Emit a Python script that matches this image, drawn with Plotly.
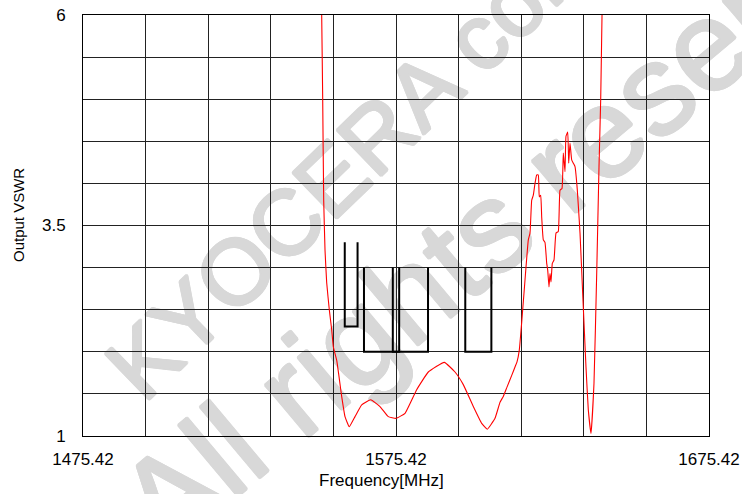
import math
import plotly.graph_objects as go

# ---- data ----
freq_mhz = [1551.55, 1551.68, 1552.00, 1552.32, 1552.74, 1553.28, 1554.11, 1554.88, 1555.39,
            1556.47, 1558.07, 1559.13, 1560.50, 1562.32, 1564.46, 1567.34, 1570.31, 1572.96,
            1575.42, 1578.30, 1582.03, 1585.74, 1590.85, 1594.27, 1596.92, 1600.12, 1602.80,
            1604.59, 1607.05, 1608.65, 1609.70, 1610.88, 1612.39, 1613.44, 1614.08, 1614.81,
            1615.58, 1616.63, 1617.69, 1618.23, 1618.77, 1619.29, 1619.83, 1620.37, 1620.88,
            1621.20, 1621.65, 1621.97, 1622.48, 1623.02, 1623.57, 1623.89, 1624.30, 1624.62,
            1624.94, 1625.36, 1625.90, 1626.54, 1627.27, 1627.82, 1628.45, 1628.87, 1629.41,
            1629.73, 1630.28, 1630.60, 1631.01, 1631.55, 1632.07, 1632.61, 1633.35, 1634.21,
            1635.07, 1636.12, 1636.86, 1637.72, 1638.68, 1639.54, 1640.28, 1640.82, 1641.24,
            1641.40]
vswr = [6.3, 6.0, 5.0, 3.8, 3.21, 2.82, 2.50, 2.26, 2.06,
        1.90, 1.47, 1.23, 1.11, 1.23, 1.37, 1.43, 1.35, 1.23,
        1.21, 1.27, 1.55, 1.76, 1.875, 1.76, 1.61, 1.35, 1.15,
        1.08, 1.21, 1.40, 1.47, 1.58, 1.72, 1.82, 1.88, 2.02,
        2.35, 2.85, 3.33, 3.41, 3.80, 3.86, 4.00, 4.10, 4.10,
        3.84, 3.86, 3.60, 3.33, 3.30, 3.05, 2.97, 2.77, 2.93,
        2.83, 3.05, 3.09, 3.41, 3.43, 3.92, 3.94, 4.36, 4.14,
        4.56, 4.61, 4.24, 4.48, 4.28, 4.24, 4.20, 3.92, 3.41,
        2.69, 1.82, 1.31, 1.03, 1.63, 2.93, 4.20, 5.00, 6.0,
        6.3]

# spec bands: (low MHz, high MHz, lower VSWR, upper VSWR)
band_low = [1559.05, 1565.19, 1574.40, 1597.55]
band_high = [1563.14, 1585.65, 1576.44, 1605.89]
band_bottom = [2.3, 2.0, 2.0, 2.0]
band_top = [3.3, 3.0, 3.0, 3.0]

x_grid = [1475.42 + 20 * i for i in range(11)]
x_labels = ["1475.42", "", "", "", "", "1575.42", "", "", "", "", "1675.42"]
y_grid = [1 + 0.5 * i for i in range(11)]
y_labels = ["1", "", "", "", "", "3.5", "", "", "", "", "6"]

watermark_texts = ["KYOCERA confidential", "All rights reserved"]

FONT = "Liberation Sans, Arial, sans-serif"
L, R, T, B = 83, 33, 15, 58
PW, PH = 742 - L - R, 494 - T - B

fig = go.Figure()

for lo, hi, bot, top in zip(band_low, band_high, band_bottom, band_top):
    fig.add_trace(go.Scatter(x=[lo, lo, hi, hi], y=[top, bot, bot, top], mode="lines",
                             line=dict(color="black", width=2), showlegend=False,
                             hoverinfo="skip"))

fig.add_trace(go.Scatter(x=freq_mhz, y=vswr, mode="lines",
                         line=dict(color="#ff0000", width=1.1, shape="spline", smoothing=0.35),
                         showlegend=False))

# watermark (below gridlines)
wm_color = "#d8d8d8"
wm_shadow = ", ".join(f"{a}px {b}px 0 {wm_color}" for a, b in
                      [(1.5, 0), (-1.5, 0), (0, 1.5), (0, -1.5), (1, 1), (-1, -1), (1, -1), (-1, 1)])
def px2paper(px, py):
    return (px - L) / PW, (T + PH - py) / PH

wm_specs = [((452, 50), 44, 92), ((522, 184), 40, 128)]
for ((cx, cy), ang, size), text in zip(wm_specs, watermark_texts):
    ux, uy = math.cos(math.radians(ang)), -math.sin(math.radians(ang))
    x0, y0 = px2paper(cx - ux * 70, cy - uy * 70)
    x1, y1 = px2paper(cx + ux * 70, cy + uy * 70)
    fig.add_shape(type="line", xref="paper", yref="paper", x0=x0, y0=y0, x1=x1, y1=y1,
                  layer="below", line=dict(width=0, color="rgba(0,0,0,0)"),
                  label=dict(text=text, textposition="middle", yanchor="middle",
                             font=dict(family=FONT, size=size, color=wm_color,
                                       shadow=wm_shadow)))

fig.update_layout(
    width=742, height=494,
    margin=dict(l=L, r=R, t=T, b=B, autoexpand=False),
    paper_bgcolor="white", plot_bgcolor="rgba(0,0,0,0)",
    font=dict(family=FONT, size=17, color="black"),
    showlegend=False,
    xaxis=dict(range=[1475.42, 1675.42], tickmode="array", tickvals=x_grid, ticktext=x_labels,
               showgrid=True, gridcolor="#222", gridwidth=1, zeroline=False,
               showline=True, linecolor="black", linewidth=1, mirror=True, automargin=False,
               ticks="", ticklabelstandoff=8, tickfont=dict(size=17)),
    yaxis=dict(range=[1, 6], tickmode="array", tickvals=y_grid, ticktext=y_labels,
               showgrid=True, gridcolor="#222", gridwidth=1, zeroline=False,
               showline=True, linecolor="black", linewidth=1, mirror=True, automargin=False,
               ticks="", ticklabelstandoff=13, tickfont=dict(size=17)),
    annotations=[
        dict(text="Frequency[MHz]", xref="paper", yref="paper", x=(381 - L) / PW,
             y=(T + PH - 481) / PH, showarrow=False, xanchor="center", yanchor="middle",
             font=dict(size=17)),
        dict(text="Output VSWR", xref="paper", yref="paper", x=(18 - L) / PW,
             y=(T + PH - 215) / PH, showarrow=False, xanchor="center", yanchor="middle",
             textangle=-90, font=dict(size=15)),
    ],
)

fig.write_html("out.html", config={"displayModeBar": False},
               post_script="document.body.style.margin='0px';document.body.style.overflow='hidden';")
